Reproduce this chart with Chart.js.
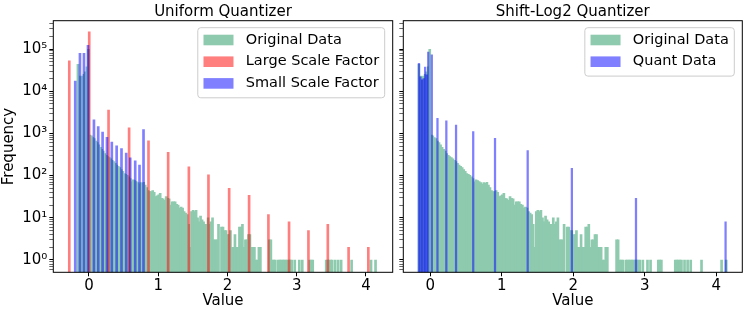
<!DOCTYPE html>
<html>
<head>
<meta charset="utf-8">
<script src="https://cdn.jsdelivr.net/npm/chart.js@4"></script>
<style>
  body { margin: 0; background: #fff; }
  #wrap { position: relative; width: 748px; height: 310px; }
  canvas { position: absolute; top: 0; }
  #left { left: 0; }
  #right { left: 398px; }
</style>
</head>
<body>
<div id="wrap">
  <canvas id="left" width="398" height="310"></canvas>
  <canvas id="right" width="350" height="310"></canvas>
</div>
<script>
// histogram of the original (GELU) values, 200 bins
const origBinStart = -0.17;
const origBinWidth = 0.0216;
const origCounts = [
  43600, 22900, 21900, 22900, 25100, 28800, 38000, 97700, 912, 871,
  794, 759, 661, 603, 537, 468, 417, 380, 331, 302,
  282, 269, 251, 229, 214, 195, 178, 166, 155, 138,
  126, 112, 107, 102, 93, 85, 71, 79, 76, 72,
  68, 63, 68, 66, 69, 60, 52, 44, 42, 42,
  44, 40, 32, 33, 35, 38, 29, 28, 26, 32,
  29, 28, 20, 24, 24, 24, 21, 20, 17, 18,
  17, 14, 13, 12, 7, 2, 14, 15, 14, 15,
  10, 8, 11, 9, 8, 7, 7, 10, 7, 8,
  10, 3, 3, 3, 7, 0, 6, 6, 5, 5,
  4, 4, 5, 2, 2, 4, 2, 2, 6, 6,
  7, 2, 3, 3, 4, 4, 2, 2, 2, 1,
  1, 2, 2, 0, 0, 0, 0, 0, 3, 3,
  1, 1, 1, 0, 1, 1, 1, 1, 1, 1,
  1, 1, 1, 1, 0, 1, 0, 0, 1, 0,
  1, 0, 0, 0, 0, 1, 1, 1, 0, 0,
  0, 0, 0, 0, 0, 0, 1, 1, 1, 1,
  1, 0, 1, 0, 1, 0, 1, 0, 0, 0,
  0, 0, 0, 1, 0, 0, 0, 0, 0, 0,
  0, 0, 0, 0, 0, 0, 1, 0, 0, 1
];

// uniform quantizer, large scale factor
const largeLevels = [-0.284, 0.004, 0.283, 0.58, 0.86, 1.144, 1.443, 1.726, 2.025, 2.313, 2.592, 2.89, 3.17, 3.45, 3.75, 4.035];
const largeCounts = [52500, 257000, 3560, 1365, 670, 355, 162, 105, 50, 34, 12, 8, 5, 7, 2, 2];

// uniform quantizer, small scale factor
const smallLevels = [-0.198, -0.130, -0.072, -0.014, 0.072, 0.134, 0.197, 0.260, 0.330, 0.400, 0.470, 0.538, 0.596, 0.668, 0.730, 0.788];
const smallCounts = [17400, 79000, 79000, 123000, 2090, 1450, 1070, 810, 620, 510, 440, 340, 265, 225, 178, 1230];

// shift-log2 quantizer
const logLevels = [-0.159, -0.1374, -0.1158, -0.0942, -0.0726, -0.051, -0.0294, 0.021, 0.100, 0.224, 0.360, 0.600, 0.905, 1.362, 1.980, 2.877, 4.130];
const logCounts = [45700, 21900, 18600, 20000, 37200, 24500, 85000, 72400, 2290, 2000, 1580, 1100, 760, 390, 148, 29, 8];

const xTickValues = [0, 1, 2, 3, 4];
const xTickLabels = ['0', '1', '2', '3', '4'];
const yMajorValues = [1, 10, 100, 1000, 10000, 100000];
const yMajorLabels = ['10⁰', '10¹', '10²', '10³', '10⁴', '10⁵'];
const yMin = 0.511, yMax = 469000;

const green = '#8ecaae';
const red = 'rgba(255,0,0,0.5)';
const blue = 'rgba(0,0,255,0.5)';

Chart.defaults.font.family = '"DejaVu Sans"';
Chart.defaults.color = '#000';

const origPoints = origCounts.map((c, i) => ({ x: origBinStart + (i + 0.5) * origBinWidth, y: c }));
function pts(xs, ys) { return xs.map((x, i) => ({ x: x, y: ys[i] })); }

// minor ticks of the log axis
const yTickValues = [];
for (let d = 0.1; d <= 100000; d *= 10) {
  for (let k = 1; k <= 9; k++) {
    const v = Math.round(k * d * 10) / 10;
    if (v >= yMin && v <= yMax) yTickValues.push(v);
  }
}

function xScale(min, max) {
  return {
    type: 'linear', min: min, max: max, offset: false,
    afterBuildTicks: s => { s.ticks = xTickValues.map(v => ({ value: v })); },
    ticks: { font: { size: 15 }, padding: 1, callback: (v, i) => xTickLabels[i] },
    grid: { display: true, drawOnChartArea: false, drawTicks: true, tickLength: 4, color: '#000', offset: false },
    border: { display: false },
    title: { display: true, text: 'Value', font: { size: 15 }, padding: 0 },
    afterFit: s => { s.height = 37.7; }
  };
}

function yScale(showLabels, width) {
  return {
    type: 'logarithmic', min: yMin, max: yMax,
    afterBuildTicks: s => { s.ticks = yTickValues.map(v => ({ value: v, major: yMajorValues.includes(v) })); },
    ticks: {
      autoSkip: false, font: { size: 15 }, padding: 2,
      callback: v => {
        const i = yMajorValues.indexOf(v);
        return showLabels && i >= 0 ? yMajorLabels[i] : '';
      }
    },
    grid: {
      display: true, drawOnChartArea: false, drawTicks: true, tickLength: 4, color: '#000',
      lineWidth: c => (c.tick && c.tick.major) ? 1 : 0.6
    },
    border: { display: false },
    title: { display: showLabels, text: 'Frequency', font: { size: 15 }, padding: 0 },
    afterFit: s => { s.width = width; }
  };
}

// frame, title and legend drawn like the matplotlib axes
const panelDecor = {
  id: 'panelDecor',
  afterDraw(chart, args, opts) {
    const ctx = chart.ctx, a = chart.chartArea;
    ctx.save();
    ctx.strokeStyle = '#000';
    ctx.lineWidth = 1;
    ctx.strokeRect(a.left, a.top, a.right - a.left, a.bottom - a.top);

    ctx.fillStyle = '#000';
    ctx.font = '15px "DejaVu Sans"';
    ctx.textAlign = 'center';
    ctx.textBaseline = 'alphabetic';
    ctx.fillText(opts.title, (a.left + a.right) / 2, 16);

    const items = chart.data.datasets.map(d => ({ text: d.label, color: d.backgroundColor }));
    ctx.font = '14.5px "DejaVu Sans"';
    const tw = Math.max(...items.map(it => ctx.measureText(it.text).width));
    const w = 5.7 + 30 + 12.3 + tw + 5.5;
    const h = items.length * 21.7 + 5;
    const x0 = a.right - 8 - w, y0 = a.top + 7;
    ctx.beginPath();
    ctx.roundRect(x0, y0, w, h, 3);
    ctx.fillStyle = 'rgba(255,255,255,0.8)';
    ctx.fill();
    ctx.strokeStyle = '#cccccc';
    ctx.stroke();
    items.forEach((it, i) => {
      const cy = y0 + 12.3 + i * 21.7;
      ctx.fillStyle = it.color;
      ctx.fillRect(x0 + 5.7, cy - 5.3, 30, 10.6);
      ctx.fillStyle = '#000';
      ctx.textAlign = 'left';
      ctx.textBaseline = 'middle';
      ctx.fillText(it.text, x0 + 48, cy);
    });
    ctx.restore();
  }
};

function makeChart(id, datasets, title, xs, ys, padRight) {
  return new Chart(document.getElementById(id), {
    type: 'bar',
    data: { datasets: datasets },
    options: {
      responsive: false,
      animation: false,
      events: [],
      layout: { padding: { left: 0, right: padRight, top: 20.7, bottom: 0 } },
      datasets: { bar: { grouped: false, borderWidth: 0 } },
      scales: { x: xs, y: ys },
      plugins: { legend: { display: false }, tooltip: { enabled: false }, panelDecor: { title: title } }
    },
    plugins: [panelDecor]
  });
}

makeChart('left', [
  { label: 'Original Data', data: origPoints, backgroundColor: green, barThickness: 2, order: 3 },
  { label: 'Large Scale Factor', data: pts(largeLevels, largeCounts), backgroundColor: red, barThickness: 2, order: 2 },
  { label: 'Small Scale Factor', data: pts(smallLevels, smallCounts), backgroundColor: blue, barThickness: 2, order: 1 }
], 'Uniform Quantizer', xScale(-0.515, 4.387), yScale(true, 53.3), 5.3);

makeChart('right', [
  { label: 'Original Data', data: origPoints, backgroundColor: green, barThickness: 2, order: 2 },
  { label: 'Quant Data', data: pts(logLevels, logCounts), backgroundColor: blue, barThickness: 1.6, order: 1 }
], 'Shift-Log2 Quantizer', xScale(-0.378, 4.364), yScale(false, 5.3), 5.7);
</script>
</body>
</html>
